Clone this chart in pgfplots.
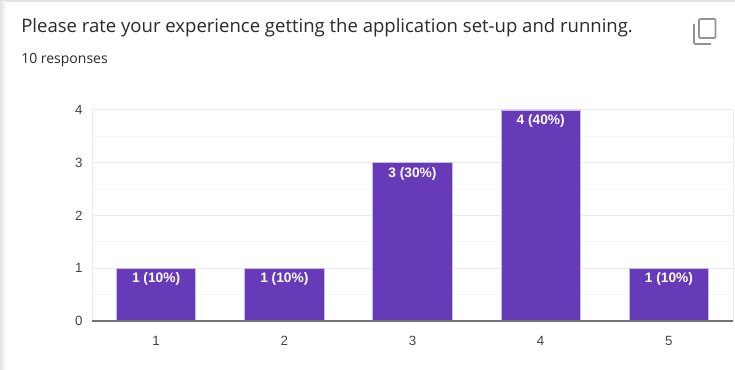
\documentclass[border=0pt]{standalone}
\usepackage{fontspec}
\setmainfont{Liberation Sans}
\newfontfamily\titlefont{Open Sans}
\usepackage{pgfplots}
\pgfplotsset{compat=1.18}
\definecolor{barfill}{HTML}{673AB7}
\definecolor{baredge}{HTML}{C9B8E8}
\definecolor{majorgrid}{HTML}{EBEBEB}
\definecolor{minorgrid}{HTML}{F6F6F6}
\definecolor{ticktext}{HTML}{444444}
\definecolor{titletext}{HTML}{2A2A2A}
\definecolor{chrome}{HTML}{E2E2E2}
\begin{document}
\begin{tikzpicture}[x=0.75pt,y=0.75pt]
  \path[use as bounding box] (0,0) rectangle (735,370);
  % page card with its grey edges
  \fill[white] (0,0) rectangle (735,370);
  \fill[chrome] (0,368) rectangle (735,370);
  \shade[left color=chrome,right color=white] (0,0) rectangle (6,368);
  % heading
  \node[anchor=base west,inner sep=0pt,text=titletext,font=\titlefont\fontsize{13.9pt}{16pt}\selectfont] at (21,337) {Please rate your experience getting the application set-up and running.};
  \node[anchor=base west,inner sep=0pt,text=titletext,font=\titlefont\fontsize{10.5pt}{12pt}\selectfont] at (21,306) {10 responses};
  % copy icon
  \draw[gray!85,line width=1.2pt,rounded corners=0.8pt] (699,351) rectangle (715.5,332);
  \draw[gray!85,line width=1.2pt,rounded corners=0.8pt] (694,346) -- (694,326) -- (711,326);
  \begin{axis}[
    at={(69pt,36.75pt)},anchor=south west,
    scale only axis,width=480.75pt,height=158.25pt,
    xmin=0.5,xmax=5.5,ymin=0,ymax=4,
    ybar,bar width=59.5pt,
    xtick={1,2,3,4,5},ytick={0,1,2,3,4},
    minor ytick={0.5,1.5,2.5,3.5},
    ymajorgrids,yminorgrids,
    major grid style={majorgrid,line width=0.75pt},
    minor grid style={minorgrid,line width=0.75pt},
    axis line style={draw=none},
    major tick style={draw=none},minor tick style={draw=none},
    tick label style={text=ticktext,font=\fontsize{10pt}{12pt}\selectfont},
    /pgf/number format/assume math mode=true,
    xticklabel style={yshift=-3.5pt},
    yticklabel style={xshift=-3.5pt},
    nodes near coords,
    point meta=explicit symbolic,
    nodes near coords style={anchor=north,text=white,font=\bfseries\fontsize{10.3pt}{12pt}\selectfont,inner sep=0pt,yshift=-3pt},
    clip=false,
  ]
    \addplot[fill=barfill,draw=baredge,line width=0.6pt] coordinates {
      (1,1) [1 (10\%)]
      (2,1) [1 (10\%)]
      (3,3) [3 (30\%)]
      (4,4) [4 (40\%)]
      (5,1) [1 (10\%)]
    };
    % plot edges and baseline
    \draw[majorgrid,line width=0.75pt] (axis cs:0.5,0) -- (axis cs:0.5,4);
    \draw[majorgrid,line width=0.75pt] (axis cs:5.5,0) -- (axis cs:5.5,4);
    \draw[black!55,line width=0.8pt] (axis cs:0.5,0) -- (axis cs:5.5,0);
  \end{axis}
\end{tikzpicture}
\end{document}
